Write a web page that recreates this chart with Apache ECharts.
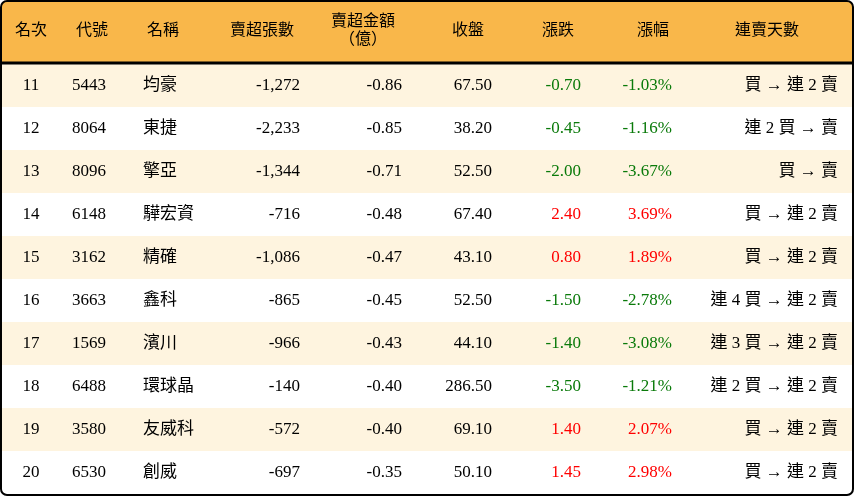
<!DOCTYPE html>
<html><head><meta charset="utf-8">
<script src="https://cdn.jsdelivr.net/npm/echarts@6/dist/echarts.min.js"></script>
<style>html,body{margin:0;padding:0;background:#fff}#c{width:854px;height:496px}</style>
</head><body><div id="c"></div>
<script>
const headers = ['名次','代號','名稱','賣超張數','賣超金額\n（億）','收盤','漲跌','漲幅','連賣天數'];
const ranks = ['11','12','13','14','15','16','17','18','19','20'];
const codes = ['5443','8064','8096','6148','3162','3663','1569','6488','3580','6530'];
const names = ['均豪','東捷','擎亞','驊宏資','精確','鑫科','濱川','環球晶','友威科','創威'];
const sellLots = ['-1,272','-2,233','-1,344','-716','-1,086','-865','-966','-140','-572','-697'];
const sellAmt = ['-0.86','-0.85','-0.71','-0.48','-0.47','-0.45','-0.43','-0.40','-0.40','-0.35'];
const closes = ['67.50','38.20','52.50','67.40','43.10','52.50','44.10','286.50','69.10','50.10'];
const changes = ['-0.70','-0.45','-2.00','2.40','0.80','-1.50','-1.40','-3.50','1.40','1.45'];
const pcts = ['-1.03%','-1.16%','-3.67%','3.69%','1.89%','-2.78%','-3.08%','-1.21%','2.07%','2.98%'];
const streaks = ['買 → 連 2 賣','連 2 買 → 賣','買 → 賣','買 → 連 2 賣','買 → 連 2 賣','連 4 買 → 連 2 賣','連 3 買 → 連 2 賣','連 2 買 → 連 2 賣','買 → 連 2 賣','買 → 連 2 賣'];

const cols = [
  {x:31, align:'center'},{x:72, align:'left'},{x:143, align:'left'},{x:300, align:'right'},
  {x:402, align:'right'},{x:492, align:'right'},{x:581, align:'right'},{x:672, align:'right'},{x:838, align:'right'}
];
const headerX = [31,92,163,262,363,468,558,653,767];
const FONT = '"Liberation Serif","Noto Sans CJK TC",serif';
const HEADER_H = 62, ROW_H = 43;

const cells = [];
headers.forEach((h,c)=>cells.push({value:[headerX[c], HEADER_H/2], text:h, kind:'h', align:'center'}));
const rowsData = [ranks,codes,names,sellLots,sellAmt,closes,changes,pcts,streaks];
for (let r=0;r<ranks.length;r++){
  const yc = HEADER_H + 2 + ROW_H*r + ROW_H/2;
  cells.push({value:[0, yc], kind:'bg', row:r});
  for (let c=0;c<cols.length;c++){
    let color = '#000';
    if (c===6||c===7) color = changes[r].startsWith('-') ? '#0a7a0a' : '#ff0000';
    cells.push({value:[cols[c].x, yc], text:rowsData[c][r], kind:'d', align:cols[c].align, color});
  }
}
// backgrounds first
cells.sort((a,b)=>(a.kind==='bg'?0:1)-(b.kind==='bg'?0:1));

const chart = echarts.init(document.getElementById('c'));
chart.setOption({
  animation:false,
  grid:{left:0,right:0,top:0,bottom:0},
  xAxis:{type:'value',min:0,max:854,show:false},
  yAxis:{type:'value',min:0,max:496,inverse:true,show:false},
  graphic:[
    {type:'rect',shape:{x:1,y:1,width:852,height:HEADER_H,r:[6,6,0,0]},style:{fill:'#F9B74A'},z:0},
    {type:'line',shape:{x1:1,y1:HEADER_H+1,x2:853,y2:HEADER_H+1},style:{stroke:'#000',lineWidth:3},z:10},
    {type:'rect',shape:{x:1,y:1,width:852,height:494,r:6},style:{fill:'none',stroke:'#000',lineWidth:2},z:10}
  ],
  series:[{
    type:'custom',
    data:cells,
    z:2,
    renderItem:(params,api)=>{
      const d = cells[params.dataIndex];
      const p = api.coord(d.value);
      if (d.kind==='bg'){
        return {type:'rect',shape:{x:1,y:p[1]-ROW_H/2,width:852,height:ROW_H},
          style:{fill: d.row%2===0 ? '#FEF4DF' : '#ffffff'}};
      }
      return {type:'text',x:p[0],y:p[1],style:{text:d.text,fill:d.color||'#000',
        font: d.kind==='h' ? '16px '+FONT : '17px '+FONT,
        align:d.align,verticalAlign:'middle',lineHeight:d.kind==='h'?18:20}};
    }
  }]
});
</script></body></html>
